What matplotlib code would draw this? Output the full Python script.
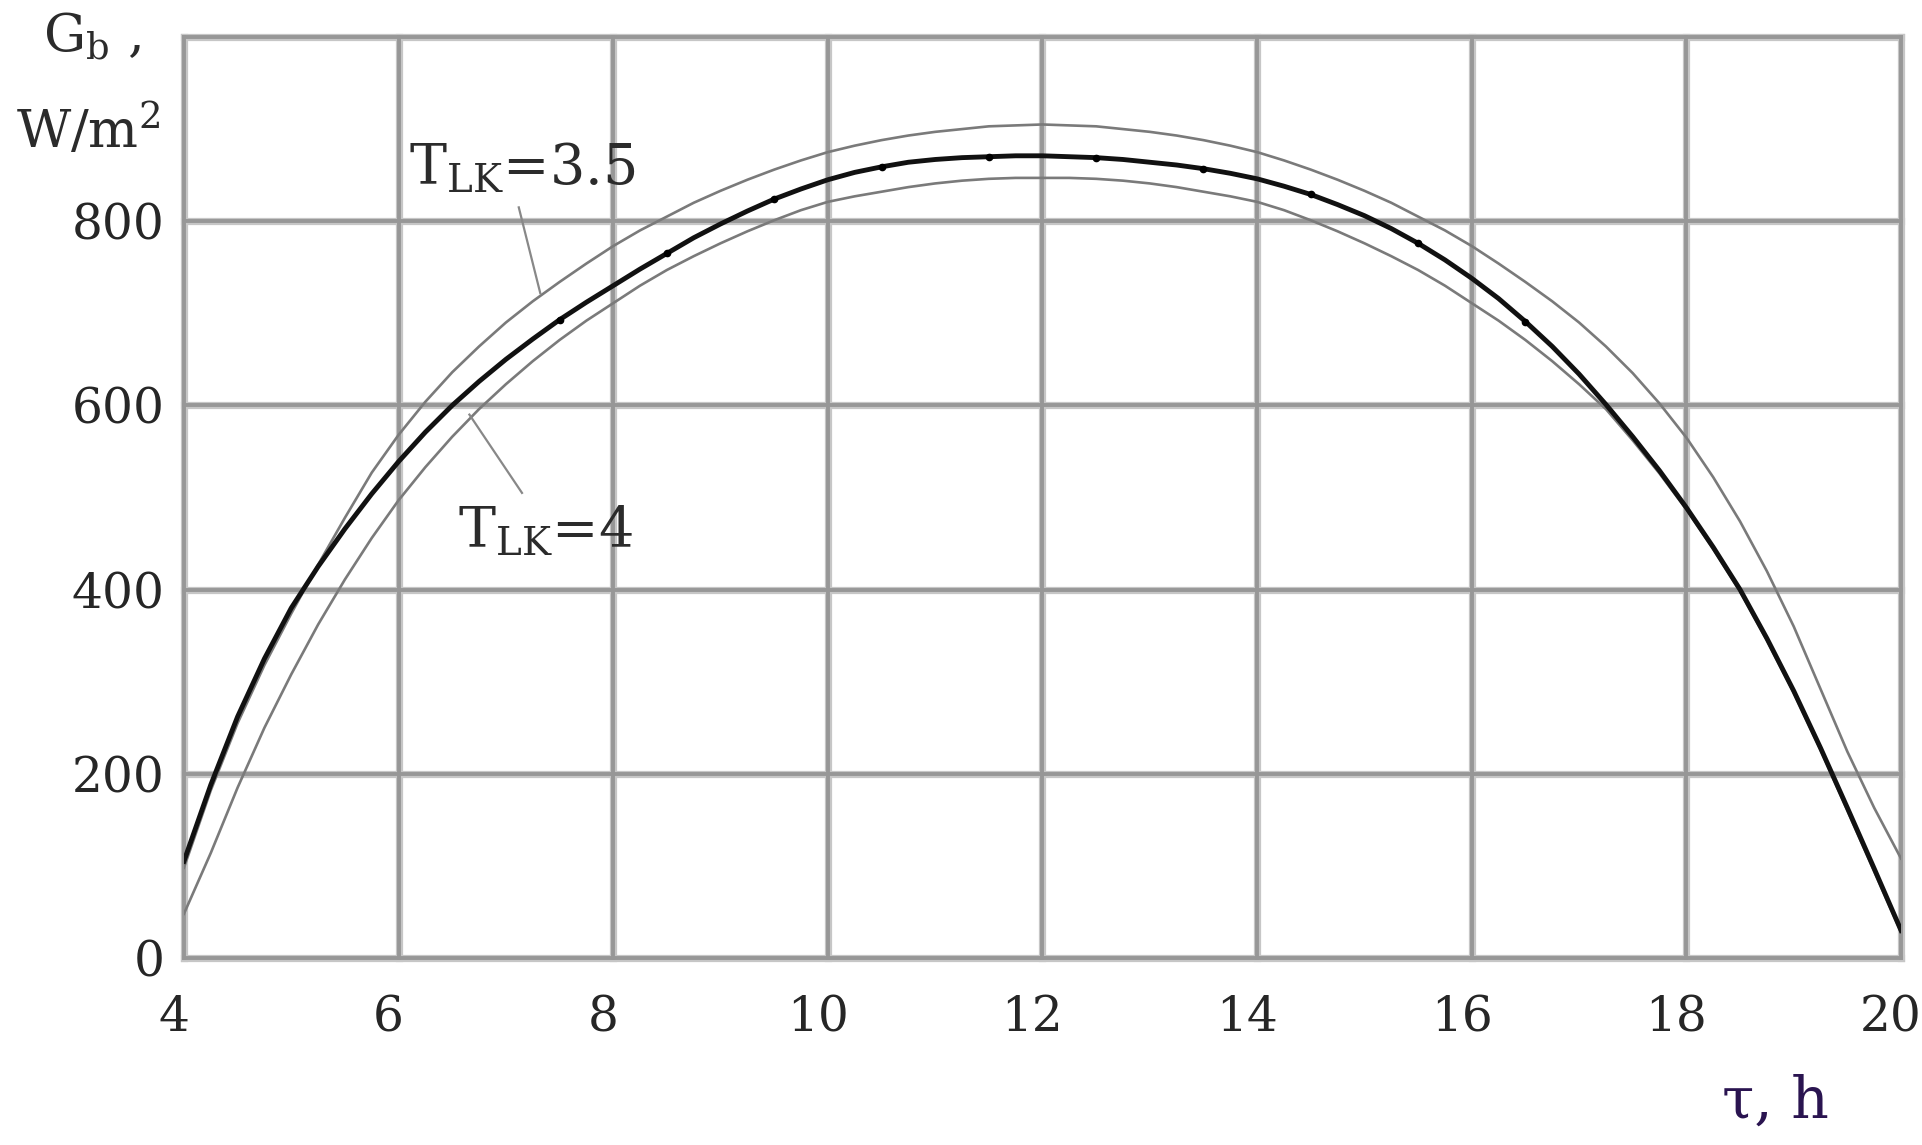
import matplotlib
matplotlib.use("Agg")
import matplotlib.pyplot as plt
import numpy as np
from matplotlib.transforms import ScaledTranslation

plt.rcParams['font.family'] = ['DejaVu Serif']
plt.rcParams['mathtext.fontset'] = 'dejavuserif'

# ---- data (every quarter hour) ----
t_hours = np.arange(4.0, 20.001, 0.25)

# thick black curve
g_black = [105, 188, 262, 325, 380, 425, 466, 504, 539, 571, 600, 626, 650, 672, 693, 712,
           730, 748, 765, 782, 797, 811, 824, 835, 845, 853, 859, 864, 867, 869, 870, 871,
           871, 870, 869, 867, 864, 861, 857, 852, 846, 838, 829, 818, 806, 792, 776, 758,
           738, 716, 691, 664, 634, 601, 566, 529, 489, 446, 400, 347, 290, 228, 163, 97,
           30]
# T_LK = 3.5 (upper thin gray)
g_tlk35 = [98, 182, 255, 318, 374, 427, 478, 527, 568, 604, 636, 664, 690, 713, 734, 754,
           773, 790, 805, 820, 833, 845, 856, 866, 875, 882, 888, 893, 897, 900, 903, 904,
           905, 904, 903, 900, 897, 893, 888, 882, 875, 866, 856, 845, 833, 820, 805, 790,
           773, 754, 734, 713, 690, 664, 635, 602, 565, 522, 474, 420, 360, 292, 224, 163,
           108]
# T_LK = 4 (lower thin gray)
g_tlk4 = [48, 114, 185, 250, 308, 362, 411, 456, 497, 533, 566, 596, 623, 648, 671, 692,
          711, 730, 747, 762, 776, 789, 801, 812, 821, 827, 832, 837, 841, 844, 846, 847,
          847, 847, 846, 844, 841, 837, 832, 827, 821, 812, 801, 789, 776, 762, 747, 730,
          711, 692, 671, 648, 623, 596, 562, 526, 487, 444, 398, 345, 288, 226, 160, 94,
          28]

x_ticks = [4, 6, 8, 10, 12, 14, 16, 18, 20]
y_ticks = [0, 200, 400, 600, 800]
y_grid = [0, 200, 400, 600, 800, 1000]

label_35 = r'$\mathrm{T}_{\mathrm{LK}}$=3.5'
label_4 = r'$\mathrm{T}_{\mathrm{LK}}$=4'
label_35_pos = (6.10, 840)
label_4_pos = (6.55, 446)
leader_35_x = [7.12, 7.32]
leader_35_y = [815, 722]
leader_4_x = [7.15, 6.66]
leader_4_y = [505, 590]

# ---- figure ----
fig = plt.figure(figsize=(19.22, 11.45), dpi=100)
ax = fig.add_axes([0.0957, 0.1633, 0.8934, 0.8044])
ax.set_xlim(4, 20)
ax.set_ylim(0, 1000)
for s in ax.spines.values():
    s.set_visible(False)

# grid (including frame)
for xv in x_ticks:
    ax.axvline(xv, color='#c6c6c6', lw=5.2, zorder=1, clip_on=False)
    ax.axvline(xv, color='#979797', lw=2.8, zorder=1.1, clip_on=False)
for yv in y_grid:
    ax.axhline(yv, color='#c6c6c6', lw=5.2, zorder=1, clip_on=False)
    ax.axhline(yv, color='#979797', lw=2.8, zorder=1.1, clip_on=False)

# curves
ax.plot(t_hours, g_tlk35, color='#7a7a7a', lw=1.9, zorder=3)
ax.plot(t_hours, g_tlk4, color='#7a7a7a', lw=1.9, zorder=3)
dot_idx = [i for i, t in enumerate(t_hours) if (t % 1 == 0.5) and 7 < t < 17]
ax.plot(t_hours, g_black, color='#111111', lw=3.5, zorder=4,
        marker='o', ms=4.5, markevery=dot_idx, mfc='#000000', mec='#000000')

# labels and leaders
ax.text(label_35_pos[0], label_35_pos[1], label_35, fontsize=40, ha='left',
        va='baseline', color='#2b2b2b', zorder=5)
ax.text(label_4_pos[0], label_4_pos[1], label_4, fontsize=40, ha='left',
        va='baseline', color='#2b2b2b', zorder=5)
ax.plot(leader_35_x, leader_35_y, color='#888888', lw=1.6, zorder=3)
ax.plot(leader_4_x, leader_4_y, color='#888888', lw=1.6, zorder=3)

# ticks
ax.set_xticks(x_ticks)
ax.set_xticklabels([str(v) for v in x_ticks])
ax.set_yticks(y_ticks)
ax.set_yticklabels([str(v) for v in y_ticks])
ax.tick_params(axis='both', length=0, labelsize=35, colors='#262626')
ax.tick_params(axis='x', pad=26)
ax.tick_params(axis='y', pad=14)
for lab in ax.get_xticklabels():
    lab.set_transform(lab.get_transform() + ScaledTranslation(-0.1, 0, fig.dpi_scale_trans))

# axis titles
fig.text(0.048, 0.968, r'$\mathrm{G}_{\mathrm{b}}$ ,', fontsize=38, ha='center',
         va='center', color='#2b2b2b')
fig.text(0.046, 0.886, r'W/m$^{2}$', fontsize=38, ha='center', va='center',
         color='#2b2b2b')
fig.text(0.9235, 0.038, 'τ, h', fontsize=42, ha='center', va='center',
         color='#2a1450')

fig.savefig('out.png', dpi=100, facecolor='white')
